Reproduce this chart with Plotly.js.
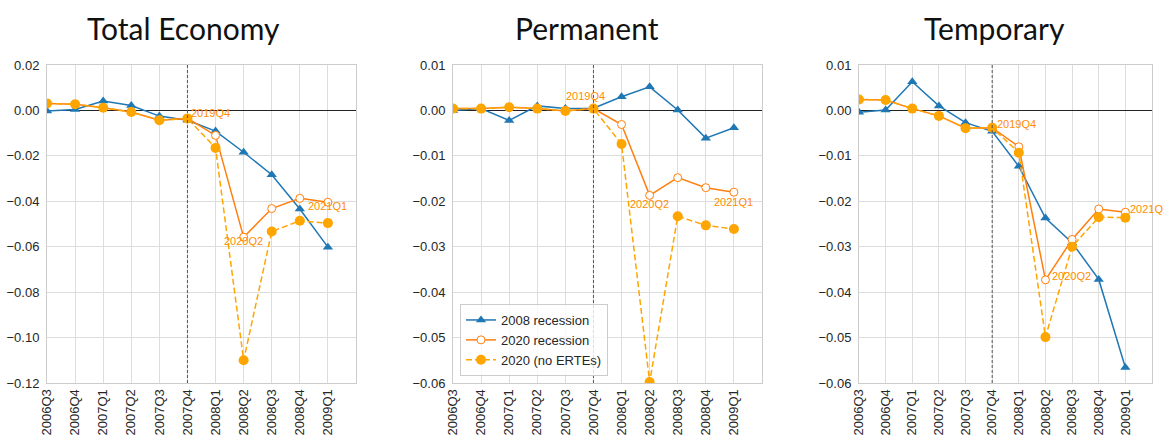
<!DOCTYPE html>
<html>
<head>
<meta charset="utf-8">
<script src="https://cdn.plot.ly/plotly-3.0.1.min.js"></script>
<style>html,body{margin:0;padding:0;background:#fff;}#chart{width:1164px;height:436px;}</style>
</head>
<body>
<div id="chart"></div>
<script>
// ---- data ----
const quarters = ['2006Q3','2006Q4','2007Q1','2007Q2','2007Q3','2007Q4','2008Q1','2008Q2','2008Q3','2008Q4','2009Q1'];
const panelTitles = ['Total Economy', 'Permanent', 'Temporary'];
const seriesNames = ['2008 recession', '2020 recession', '2020 (no ERTEs)'];

const totalRec2008   = [-0.0003, 0.0004, 0.0041, 0.0022, -0.0025, -0.0043, -0.0091, -0.0184, -0.0283, -0.0434, -0.0602];
const totalRec2020   = [0.0031, 0.0027, 0.0012, -0.0007, -0.0043, -0.0035, -0.0110, -0.0558, -0.0432, -0.0387, -0.0404];
const totalNoErtes   = [0.0031, 0.0027, 0.0012, -0.0007, -0.0043, -0.0035, -0.0165, -0.1100, -0.0533, -0.0486, -0.0496];

const permRec2008    = [0.0000, 0.0004, -0.0022, 0.0010, 0.0004, 0.0005, 0.0030, 0.0052, 0.0001, -0.0061, -0.0038];
const permRec2020    = [0.0004, 0.0004, 0.0007, 0.0004, -0.0001, 0.0004, -0.0031, -0.0187, -0.0148, -0.0170, -0.0180];
const permNoErtes    = [0.0004, 0.0004, 0.0007, 0.0004, -0.0001, 0.0004, -0.0074, -0.0598, -0.0233, -0.0253, -0.0261];

const tempRec2008    = [-0.0004, 0.0001, 0.0063, 0.0010, -0.0027, -0.0046, -0.0123, -0.0237, -0.0291, -0.0372, -0.0566];
const tempRec2020    = [0.0024, 0.0023, 0.0004, -0.0012, -0.0039, -0.0038, -0.0080, -0.0373, -0.0284, -0.0217, -0.0224];
const tempNoErtes    = [0.0024, 0.0023, 0.0004, -0.0012, -0.0039, -0.0038, -0.0093, -0.0499, -0.0300, -0.0235, -0.0236];

const annotLabels = ['2019Q4', '2020Q2', '2021Q1'];
const annotIndex  = [5, 7, 10];

// ---- styling / layout ----
const panels = [
  {rec08: totalRec2008, rec20: totalRec2020, noE: totalNoErtes, yr: [-0.12, 0.02], dt: 0.02},
  {rec08: permRec2008,  rec20: permRec2020,  noE: permNoErtes,  yr: [-0.06, 0.01], dt: 0.01},
  {rec08: tempRec2008,  rec20: tempRec2020,  noE: tempNoErtes,  yr: [-0.06, 0.01], dt: 0.01}
];
const W = 1164, H = 436;
const xDomPx = [[47, 356], [453, 762], [859, 1152]];
const titleCenterPx = [183, 587, 994];
const yDom = [1 - 383 / H, 1 - 65 / H];
const idx = quarters.map((q, i) => i);

// annotation placements per panel: [xanchor, xshift, yshift]
const annotPlace = [
  [['left', 2, 5], ['center', 0, -4], ['center', 0, -4]],
  [['center', -8, 13], ['center', 0, -9], ['center', 0, -10]],
  [['left', 3, 4], ['left', 5, 4], ['left', 3, 3]]
];

const tickFont = {family: 'Liberation Sans, Arial, sans-serif', size: 13, color: '#262626'};
const traces = [];
const layout = {
  width: W, height: H,
  margin: {l: 0, r: 0, t: 0, b: 0},
  paper_bgcolor: '#fff', plot_bgcolor: '#fff',
  showlegend: true,
  legend: {
    x: 460 / W, y: 1 - 376 / H, xanchor: 'left', yanchor: 'bottom',
    bgcolor: 'rgba(255,255,255,0.8)', bordercolor: '#cccccc', borderwidth: 1,
    font: tickFont, tracegroupgap: 0
  },
  annotations: [], shapes: []
};

panels.forEach((p, k) => {
  const n = k === 0 ? '' : String(k + 1);
  const xa = 'x' + n, ya = 'y' + n;
  traces.push({
    x: idx, y: p.rec08, xaxis: xa, yaxis: ya, type: 'scatter', mode: 'lines+markers',
    name: seriesNames[0], showlegend: k === 1, legendrank: 1,
    line: {color: '#1f77b4', width: 1.5},
    marker: {symbol: 'triangle-up', size: 9, color: '#1f77b4'}
  });
  traces.push({
    x: idx, y: p.rec20, xaxis: xa, yaxis: ya, type: 'scatter', mode: 'lines+markers',
    name: seriesNames[1], showlegend: k === 1, legendrank: 2,
    line: {color: '#ff7f0e', width: 1.5},
    marker: {symbol: 'circle', size: 8, color: '#ffffff', line: {color: '#ff7f0e', width: 1}}
  });
  traces.push({
    x: idx, y: p.noE, xaxis: xa, yaxis: ya, type: 'scatter', mode: 'lines+markers',
    name: seriesNames[2], showlegend: k === 1, legendrank: 3,
    line: {color: '#ffa500', width: 1.5, dash: '6px,3px'},
    marker: {symbol: 'circle', size: 10, color: '#ffa500'}
  });

  const ticks = [];
  for (let v = p.yr[0]; v <= p.yr[1] + 1e-9; v += p.dt) ticks.push(Math.round(v * 1000) / 1000);

  layout['xaxis' + n] = {
    domain: [xDomPx[k][0] / W, xDomPx[k][1] / W], anchor: ya,
    range: [0, 11], tickvals: idx, ticktext: quarters, tickangle: -90,
    tickfont: tickFont, showgrid: true, gridcolor: '#dddddd', gridwidth: 1,
    showline: true, linecolor: '#cccccc', linewidth: 1, mirror: true,
    zeroline: false, ticks: '', fixedrange: true
  };
  layout['yaxis' + n] = {
    domain: yDom, anchor: xa,
    range: p.yr, tickvals: ticks, tickformat: '.2f',
    tickfont: tickFont, showgrid: true, gridcolor: '#dddddd', gridwidth: 1,
    showline: true, linecolor: '#cccccc', linewidth: 1, mirror: true, ticklabelstandoff: 4,
    zeroline: true, zerolinecolor: '#222222', zerolinewidth: 1, ticks: '', fixedrange: true
  };

  layout.shapes.push({
    type: 'line', xref: xa, yref: ya + ' domain', x0: 5, x1: 5, y0: 0, y1: 1,
    line: {color: '#555555', width: 1, dash: '3px,2px'}
  });

  layout.annotations.push({
    text: panelTitles[k], xref: 'paper', yref: 'paper',
    x: titleCenterPx[k] / W, y: 1 - 28 / H,
    xanchor: 'center', yanchor: 'middle', showarrow: false,
    font: {family: 'Lato, Open Sans, sans-serif', size: 30, color: '#111111'}
  });

  annotLabels.forEach((lab, j) => {
    const pl = annotPlace[k][j];
    layout.annotations.push({
      text: lab, xref: xa, yref: ya, x: annotIndex[j], y: p.rec20[annotIndex[j]],
      xanchor: pl[0], yanchor: 'middle', xshift: pl[1], yshift: pl[2], showarrow: false,
      font: {family: 'Liberation Sans, Arial, sans-serif', size: 11, color: '#ff8c00'}
    });
  });
});

Plotly.newPlot('chart', traces, layout, {displayModeBar: false, staticPlot: true});
</script>
</body>
</html>
